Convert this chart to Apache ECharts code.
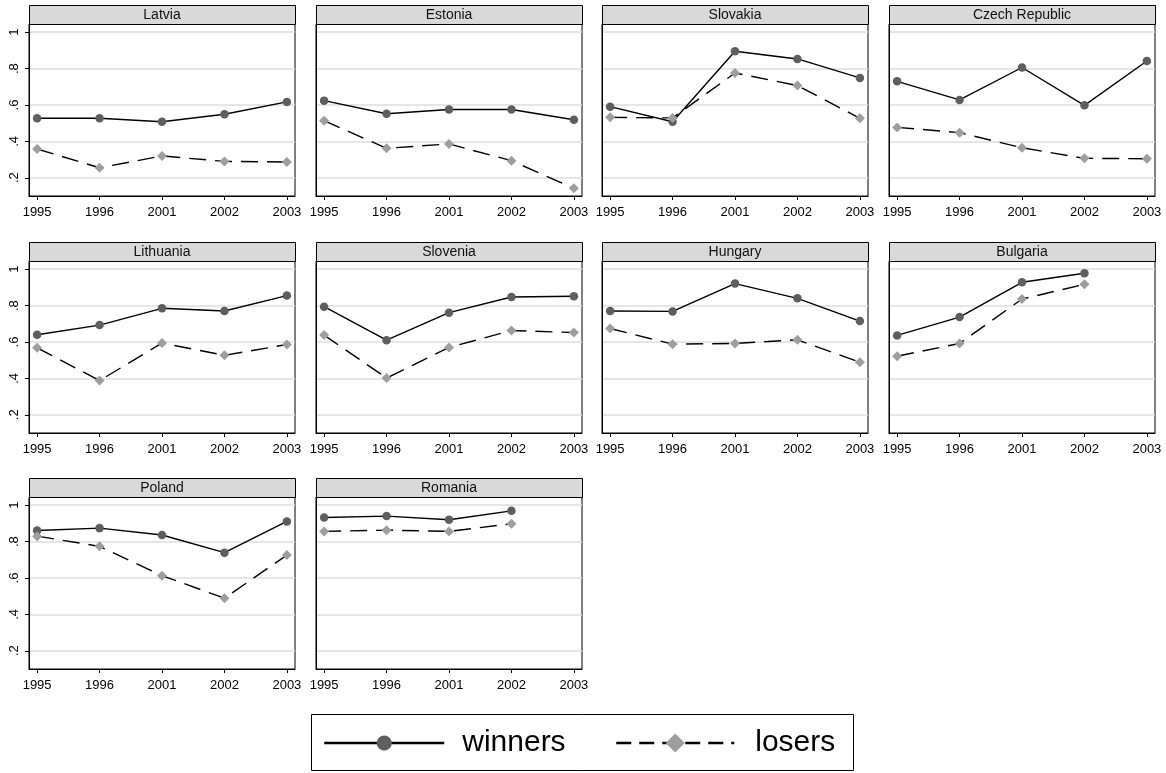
<!DOCTYPE html>
<html>
<head>
<meta charset="utf-8">
<script src="https://cdn.jsdelivr.net/npm/echarts@6/dist/echarts.min.js"></script>
<style>
  html, body { margin: 0; padding: 0; background: #fff; }
  #chart { width: 1166px; height: 773px; }
</style>
</head>
<body>
<div id="chart"></div>
<script>
// Survey years shown on every panel's x axis
const years = ['1995', '1996', '2001', '2002', '2003'];

// Y axis ticks and their printed labels
const yTickValues = [0.2, 0.4, 0.6, 0.8, 1];
const yTickLabels = ['.2', '.4', '.6', '.8', '1'];

// Panels, in reading order
const countries = ['Latvia', 'Estonia', 'Slovakia', 'Czech Republic',
                   'Lithuania', 'Slovenia', 'Hungary', 'Bulgaria',
                   'Poland', 'Romania'];

// Share for winners, one row per country (same order as countries)
const winners = [
  [0.527, 0.527, 0.508, 0.549, 0.617],
  [0.624, 0.552, 0.575, 0.575, 0.519],
  [0.591, 0.508, 0.895, 0.853, 0.749],
  [0.730, 0.628, 0.806, 0.598, 0.842],
  [0.640, 0.693, 0.785, 0.770, 0.855],
  [0.794, 0.610, 0.761, 0.847, 0.851],
  [0.770, 0.768, 0.921, 0.840, 0.715],
  [0.636, 0.737, 0.928, 0.978, null],
  [0.861, 0.874, 0.836, 0.739, 0.911],
  [0.932, 0.940, 0.920, 0.969, null]
];

// Share for losers, one row per country (same order as countries)
const losers = [
  [0.358, 0.255, 0.320, 0.290, 0.287],
  [0.514, 0.362, 0.386, 0.294, 0.142],
  [0.532, 0.529, 0.776, 0.707, 0.527],
  [0.477, 0.448, 0.365, 0.307, 0.305],
  [0.568, 0.388, 0.594, 0.527, 0.586],
  [0.638, 0.402, 0.570, 0.663, 0.652],
  [0.674, 0.588, 0.592, 0.612, 0.489],
  [0.522, 0.592, 0.836, 0.917, null],
  [0.830, 0.774, 0.613, 0.489, 0.726],
  [0.856, 0.863, 0.856, 0.898, null]
];

const FONT = "'Liberation Sans', Arial, Helvetica, sans-serif";
const colLeft = [29, 316, 602, 889];
const rowTop = [24, 261, 497];
const PANEL_W = 266;
const PANEL_H = 172;
const HEADER_H = 19;

const grids = [], xAxes = [], yAxes = [], series = [], graphics = [];

function toPoints(vals) {
  const pts = [];
  vals.forEach((v, i) => { if (v !== null) pts.push([i, v]); });
  return pts;
}

countries.forEach((name, k) => {
  const col = k % 4, row = Math.floor(k / 4);
  const left = colLeft[col], top = rowTop[row];

  grids.push({
    left: left, top: top, width: PANEL_W, height: PANEL_H,
    show: true, borderColor: '#000', borderWidth: 1, backgroundColor: '#fff'
  });

  xAxes.push({
    gridIndex: k, type: 'value', min: -0.13, max: 4.13,
    axisLine: { show: true, onZero: false, lineStyle: { color: '#000', width: 1 } },
    axisTick: { show: true, length: 4, customValues: [0, 1, 2, 3, 4], lineStyle: { color: '#000' } },
    axisLabel: {
      show: true, customValues: [0, 1, 2, 3, 4], margin: 10,
      fontFamily: FONT, fontSize: 13, color: '#000',
      formatter: v => years[Math.round(v)]
    },
    splitLine: { show: false }
  });

  yAxes.push({
    gridIndex: k, type: 'value', min: 0.1, max: 1.045,
    axisLine: { show: true, onZero: false, lineStyle: { color: '#000', width: 1 } },
    axisTick: { show: col === 0, length: 4, customValues: yTickValues, lineStyle: { color: '#000' } },
    axisLabel: {
      show: col === 0, customValues: yTickValues, rotate: 90, margin: 8,
      fontFamily: FONT, fontSize: 13, color: '#000',
      formatter: v => {
        const i = yTickValues.findIndex(t => Math.abs(t - v) < 1e-6);
        return i >= 0 ? yTickLabels[i] : '';
      }
    },
    splitLine: { show: true, lineStyle: { color: '#dedede', width: 1.5 } }
  });

  series.push({
    name: 'winners', type: 'line', xAxisIndex: k, yAxisIndex: k,
    data: toPoints(winners[k]),
    symbol: 'circle', symbolSize: 8.5, showAllSymbol: true,
    lineStyle: { color: '#000', width: 1.4, type: 'solid' },
    itemStyle: { color: '#5e5e5e' },
    emphasis: { disabled: true }, animation: false
  });
  series.push({
    name: 'losers', type: 'line', xAxisIndex: k, yAxisIndex: k,
    data: toPoints(losers[k]),
    symbol: 'diamond', symbolSize: 10, showAllSymbol: true,
    lineStyle: { color: '#000', width: 1.4, type: [17, 9] },
    itemStyle: { color: '#9e9e9e' },
    emphasis: { disabled: true }, animation: false
  });

  // Panel header strip with the country name
  graphics.push({
    type: 'rect', z: 10,
    shape: { x: left + 0.5, y: top - HEADER_H + 0.5, width: PANEL_W, height: HEADER_H },
    style: { fill: '#d9d9d9', stroke: '#000', lineWidth: 1 }
  });
  graphics.push({
    type: 'text', z: 11,
    x: left + PANEL_W / 2, y: top - HEADER_H / 2 + 0.5,
    style: {
      text: name, fill: '#111', font: '14px ' + FONT,
      align: 'center', verticalAlign: 'middle'
    }
  });
});

// Legend frame
graphics.push({
  type: 'rect', z: 0,
  shape: { x: 311.5, y: 714.5, width: 542, height: 56 },
  style: { fill: '#fff', stroke: '#000', lineWidth: 1 }
});

const chart = echarts.init(document.getElementById('chart'), null, { renderer: 'canvas' });
chart.setOption({
  backgroundColor: '#fff',
  animation: false,
  grid: grids,
  xAxis: xAxes,
  yAxis: yAxes,
  series: series,
  graphic: graphics,
  legend: [
    {
      data: ['winners'], left: 323, top: 728, padding: 0,
      itemWidth: 120, itemHeight: 19, selectedMode: false,
      lineStyle: { width: 2.5, type: 'solid' },
      textStyle: { fontFamily: FONT, fontSize: 30, color: '#000', padding: [0, 0, 0, 13] }
    },
    {
      data: ['losers'], left: 615, top: 728, padding: 0,
      itemWidth: 118, itemHeight: 24, selectedMode: false,
      lineStyle: { width: 2.5, type: [15, 8] },
      textStyle: { fontFamily: FONT, fontSize: 30, color: '#000', padding: [0, 0, 0, 16] }
    }
  ]
});
</script>
</body>
</html>
